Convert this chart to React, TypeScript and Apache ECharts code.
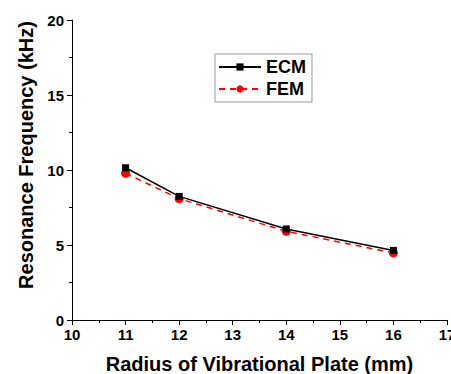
import React, { useEffect, useRef } from "react";
import * as echarts from "echarts";

const radii = [11, 12, 14, 16];
const ecmValues = [10.15, 8.24, 6.07, 4.64];
const femValues = [9.78, 8.09, 5.91, 4.47];
const seriesNames = ["ECM", "FEM"];
const xTitle = "Radius of Vibrational Plate (mm)";
const yTitle = "Resonance Frequency (kHz)";

const font = "Arial, 'Liberation Sans', sans-serif";

export default function App() {
  const ref = useRef<HTMLDivElement>(null);
  useEffect(() => {
    if (!ref.current) return;
    const chart = echarts.init(ref.current, undefined, { renderer: "svg" });
    const axisCommon = {
      axisLine: { show: true, lineStyle: { color: "#000", width: 1 } },
      axisTick: { show: true, inside: false, length: 5, lineStyle: { color: "#000" } },
      minorTick: { show: true, splitNumber: 2, length: 3, lineStyle: { color: "#000" } },
      splitLine: { show: false },
      minorSplitLine: { show: false },
      axisLabel: { color: "#000", fontWeight: "bold", fontSize: 15, fontFamily: font },
      nameTextStyle: { color: "#000", fontWeight: "bold", fontSize: 20, fontFamily: font },
    };
    chart.setOption({
      animation: false,
      backgroundColor: "#fff",
      grid: {
        left: 72,
        right: 4,
        top: 20,
        bottom: 54,
        containLabel: false,
        outerBoundsMode: "none",
      },
      legend: {
        orient: "vertical",
        left: 215,
        top: 54,
        backgroundColor: "#fff",
        borderColor: "#999",
        borderWidth: 1,
        borderRadius: 0,
        padding: [4, 6, 4, 3],
        itemGap: 4,
        itemWidth: 42,
        itemHeight: 9,
        textStyle: { color: "#000", fontWeight: "bold", fontSize: 18, fontFamily: font },
        data: seriesNames,
      },
      xAxis: {
        type: "value",
        min: 10,
        max: 17,
        interval: 1,
        name: xTitle,
        nameLocation: "middle",
        nameGap: 34,
        ...axisCommon,
        axisLabel: { ...axisCommon.axisLabel, margin: 7 },
      },
      yAxis: {
        type: "value",
        min: 0,
        max: 20,
        interval: 5,
        name: yTitle,
        nameLocation: "middle",
        nameGap: 36,
        ...axisCommon,
        nameTextStyle: { ...axisCommon.nameTextStyle, padding: [0, 0, 0, 30] },
        axisLabel: { ...axisCommon.axisLabel, margin: 8 },
      },
      series: [
        {
          name: seriesNames[0],
          type: "line",
          data: radii.map((r, i) => [r, ecmValues[i]]),
          symbol: "rect",
          symbolSize: 7,
          itemStyle: { color: "#000" },
          lineStyle: { color: "#000", width: 1.5, type: "solid" },
          z: 3,
        },
        {
          name: seriesNames[1],
          type: "line",
          data: radii.map((r, i) => [r, femValues[i]]),
          symbol: "circle",
          symbolSize: 9,
          itemStyle: { color: "#ff0000" },
          lineStyle: { color: "#ff0000", width: 1.5, type: [6, 5] },
          z: 2,
        },
      ],
    });
    return () => chart.dispose();
  }, []);
  return (
    <div
      ref={ref}
      style={{ position: "fixed", left: 0, top: 0, width: 451, height: 374 }}
    />
  );
}
